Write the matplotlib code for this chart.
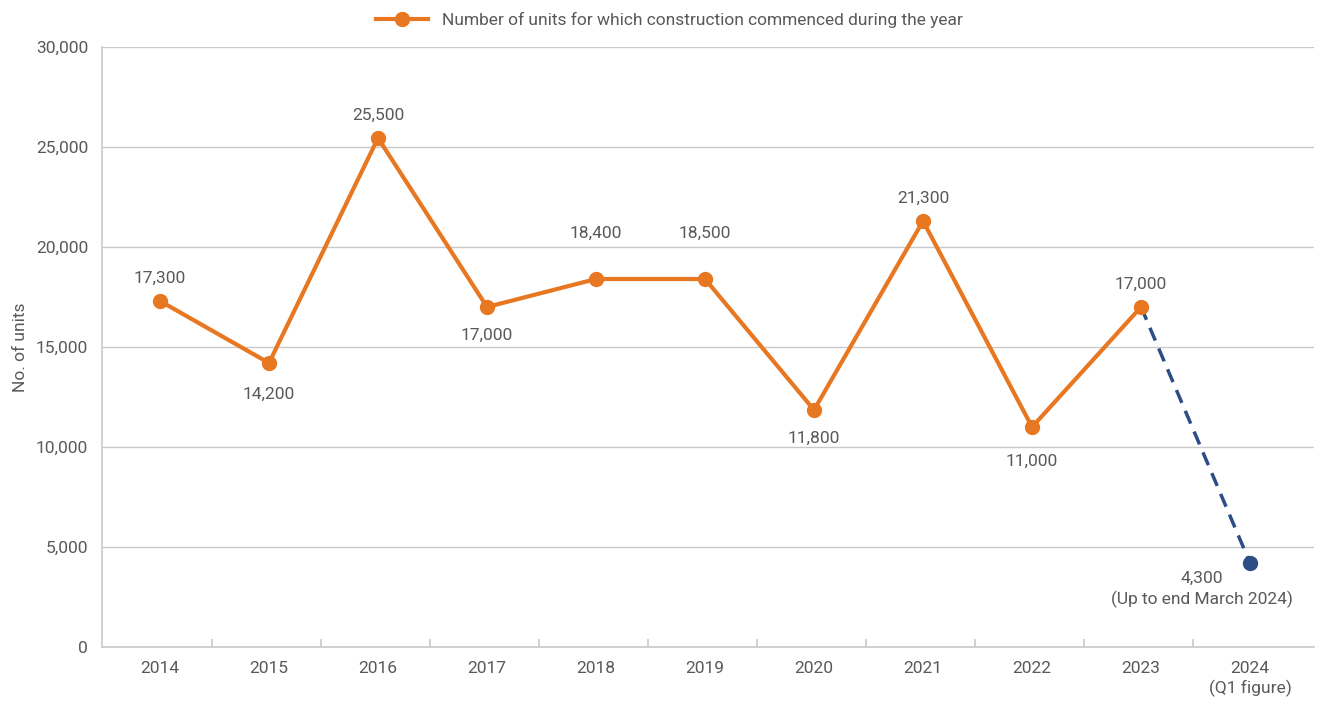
import matplotlib
matplotlib.use("Agg")
from matplotlib import pyplot as plt

plt.rcParams['font.family'] = ['Roboto', 'DejaVu Sans']

# データ
years = ['2014', '2015', '2016', '2017', '2018', '2019', '2020', '2021', '2022', '2023', '2024\n(Q1 figure)']
units = [17300, 14200, 25450, 17000, 18400, 18400, 11850, 21300, 11000, 17000, 4200]
labels = ['17,300', '14,200', '25,500', '17,000', '18,400', '18,500', '11,800', '21,300', '11,000', '17,000',
          '4,300\n(Up to end March 2024)']
# ラベル位置 (points)
label_dy = [11, -17, 11, -15, 27.5, 27.5, -15, 11, -19, 11, -6]

orange = '#E87722'
blue = '#2D4E85'
grey_txt = '#595959'
grid_c = '#C9C9C9'

fig = plt.figure(figsize=(13.18, 7.06), dpi=100)
ax = fig.add_axes([0.0774, 0.0836, 0.9196, 0.8498])

x = list(range(len(years)))

# 実線 (2014-2023)
ax.plot(x[:-1], units[:-1], color=orange, lw=3, marker='o', ms=10,
        label='Number of units for which construction commenced during the year', zorder=3)
# 破線 (2023-2024)
ax.plot(x[-2:], units[-2:], color=blue, lw=2.5, ls=(0, (4, 2.5)), zorder=2)
ax.plot(x[-1], units[-1], color=blue, marker='o', ms=10, zorder=3)

for i in range(len(x)):
    dx = -34.5 if i == len(x) - 1 else 0
    dy = label_dy[i]
    ax.annotate(labels[i], (x[i], units[i]), xytext=(dx, dy), textcoords='offset points',
                ha='center', va='bottom' if dy > 0 else 'top', fontsize=12.5,
                color=grey_txt, linespacing=1.3)

ax.set_xlim(-0.532, len(x) - 1 + 0.587)
ax.set_ylim(0, 30000)
ax.set_yticks(range(0, 30001, 5000))
ax.set_yticklabels(['{:,}'.format(v) for v in range(0, 30001, 5000)])
ax.set_xticks(x)
ax.set_xticklabels(years, linespacing=1.3)
ax.set_xticks([i + 0.48 for i in range(len(x) - 1)], minor=True)

ax.grid(axis='y', color=grid_c, lw=1)
ax.set_axisbelow(True)
for s in ['top', 'right']:
    ax.spines[s].set_visible(False)
for s in ['left', 'bottom']:
    ax.spines[s].set_color(grid_c)
    ax.spines[s].set_linewidth(1.2)

ax.tick_params(axis='x', which='major', length=0, pad=10, labelsize=12.5, colors=grey_txt)
ax.tick_params(axis='x', which='minor', direction='in', length=6, color=grid_c, width=1.2)
ax.tick_params(axis='y', length=0, pad=10, labelsize=12.5, colors=grey_txt)

ax.set_ylabel('No. of units', fontsize=12.5, color=grey_txt, labelpad=6)

ax.legend(loc='lower center', bbox_to_anchor=(0.468, 1.0), frameon=False, fontsize=12.5,
          labelcolor=grey_txt, handlelength=3, borderaxespad=0.7)

fig.savefig('out.png', dpi=100)
